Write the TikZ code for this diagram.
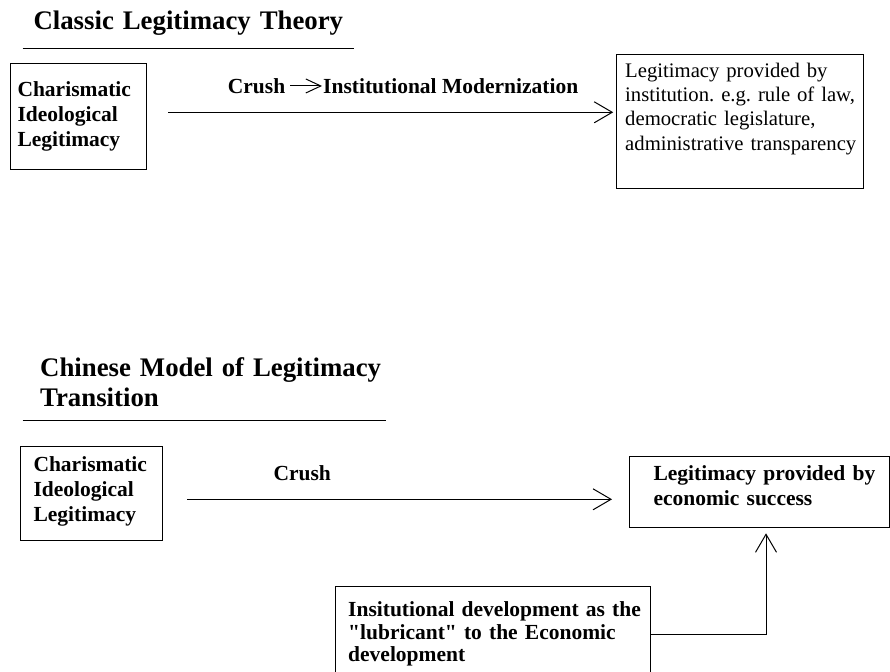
\documentclass[tikz,border=0pt]{standalone}
\usepackage{fontspec}
\setmainfont{Liberation Serif}
\usetikzlibrary{arrows.meta}
\tikzset{
  box/.style={draw, line width=1pt, rectangle, inner sep=0pt, outer sep=0pt, anchor=north west},
  txt/.style={inner sep=0pt, anchor=base west, align=left, text width=500pt},
  title/.style={txt, font=\frenchspacing\fontsize{26.8}{30}\selectfont\bfseries},
  btxt/.style={txt, font=\frenchspacing\fontsize{21.5}{25}\selectfont\bfseries},
  rtxt/.style={txt, font=\frenchspacing\fontsize{20.7}{24.3}\selectfont},
  lbl/.style={inner sep=0pt, anchor=base west, font=\fontsize{21.5}{25}\selectfont\bfseries},
  arr/.style={line width=1pt, -{Straight Barb[length=18pt,width=21pt,line width=1pt]}},
  sarr/.style={line width=1pt, -{Straight Barb[length=15pt,width=14pt,line width=1pt]}},
  rule/.style={line width=1pt}
}
\begin{document}
\begin{tikzpicture}[x=1pt,y=-1pt]
\useasboundingbox (0,0) rectangle (890,671);
\clip (0,0) rectangle (890,671);
% top part
\node[title] (t1) at (33.3,30) {Classic Legitimacy Theory};
\draw[rule] (22.7,48.3) -- (354.3,48.3);
\node[box, minimum width=136.7pt, minimum height=105pt] (b1) at (10,64) {};
\node[btxt] (b1t) at (17.3,96.7) {Charismatic\\Ideological\\Legitimacy};
\node[box, minimum width=246.6pt, minimum height=133.3pt] (b2) at (616.7,55) {};
\node[rtxt] (b2t) at (625,77.3) {Legitimacy provided by\\institution. e.g. rule of law,\\democratic legislature,\\administrative transparency};
\coordinate (a1s) at (168,112.3);
\draw[arr, shorten >=3.5pt] (a1s) -- (b2.west |- a1s);
\node[lbl] (cr1) at (227.7,93.3) {Crush};
\node[lbl] (im) at (323,93.3) {Institutional Modernization};
\draw[sarr, shorten <=5pt, shorten >=1pt] (cr1.east) -- (im.west);
% bottom part
\node[title] (t2) at (40,376.7) {Chinese Model of Legitimacy\\Transition};
\draw[rule] (22.7,420) -- (385.7,420);
\node[box, minimum width=142.7pt, minimum height=93.3pt] (b3) at (20,446.7) {};
\node[btxt] (b3t) at (33.3,471.7) {Charismatic\\Ideological\\Legitimacy};
\node[lbl] (cr2) at (273.3,480.7) {Crush};
\node[box, minimum width=260pt, minimum height=71.3pt] (b4) at (629,456) {};
\node[btxt] (b4t) at (653.3,480) {Legitimacy provided by\\economic success};
\coordinate (a2s) at (187.3,499.3);
\draw[arr, shorten >=17pt] (a2s) -- (b4.west |- a2s);
\node[box, minimum width=315pt, minimum height=95pt] (b5) at (335,586.7) {};
\node[txt, font=\frenchspacing\fontsize{21.5}{22.5}\selectfont\bfseries] (b5t) at (348,616.7) {Insitutional development as the\\\textquotedbl lubricant\textquotedbl{} to the Economic\\development};
\draw[arr] (b5.east) -| ([xshift=7pt,yshift=-6pt]b4.south);
\end{tikzpicture}
\end{document}
